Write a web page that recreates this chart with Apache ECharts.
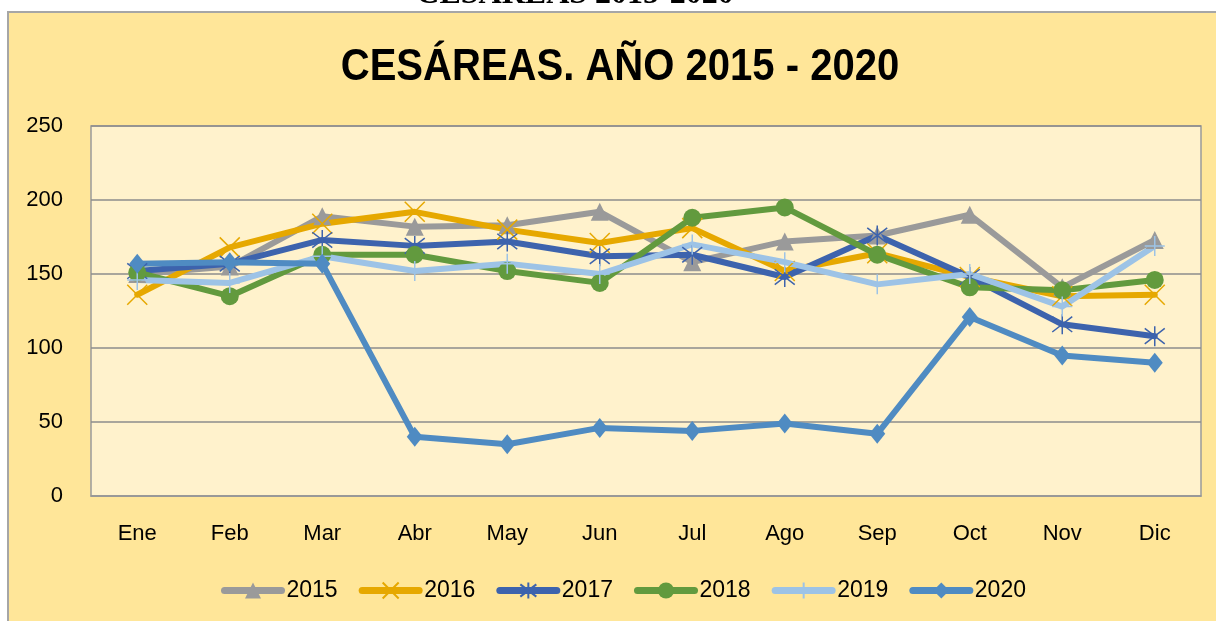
<!DOCTYPE html>
<html lang="es">
  <head>
    <meta charset="UTF-8" />
    <title>Cesáreas 2015-2020</title>
    <script src="https://cdn.jsdelivr.net/npm/echarts@6/dist/echarts.min.js"></script>
    <style>
      html,
      body {
        margin: 0;
        padding: 0;
        background: #ffffff;
      }
      #main {
        width: 1216px;
        height: 621px;
      }
    </style>
  </head>
  <body>
    <div id="main"></div>
    <script>
      // datos
      const meses = ["Ene", "Feb", "Mar", "Abr", "May", "Jun", "Jul", "Ago", "Sep", "Oct", "Nov", "Dic"];
      const yTicks = [0, 50, 100, 150, 200, 250];
      const v2015 = [150, 155, 189, 182, 183, 192, 158, 172, 176, 190, 141, 173];
      const v2016 = [136, 168, 184, 192, 180, 171, 181, 152, 164, 148, 135, 136];
      const v2017 = [152, 157, 173, 169, 172, 162, 163, 148, 176, 148, 116, 108];
      const v2018 = [151, 135, 163, 163, 152, 144, 188, 195, 163, 141, 139, 146];
      const v2019 = [146, 144, 162, 152, 157, 150, 170, 158, 143, 150, 128, 169];
      const v2020 = [157, 158, 157, 40, 35, 46, 44, 49, 42, 121, 95, 90];

      const colores = {
        2015: "#9a9a9a",
        2016: "#e6a800",
        2017: "#3d63ad",
        2018: "#629a3e",
        2019: "#9dc3e6",
        2020: "#4f8bc2",
      };

      const xPath = "path://M0,0L10,10M10,0L0,10";
      const starPath = "path://M0,0L10,10M10,0L0,10M5,-1.5L5,11.5";
      const plusPath = "path://M5,-1L5,11M0,5L10,5";

      const font = "Liberation Sans, Arial, sans-serif";

      const serie = (name, data, symbol, size, stroke) => ({
        name,
        type: "line",
        data,
        symbol,
        symbolSize: size,
        showSymbol: true,
        lineStyle: { width: 6, color: colores[name], cap: "round", join: "round" },
        itemStyle: {
          color: stroke ? "rgba(0,0,0,0)" : colores[name],
          borderColor: colores[name],
          borderWidth: stroke ? 1.5 : 0,
        },
        emphasis: { disabled: true },
        animation: false,
      });

      const option = {
        backgroundColor: "#ffffff",
        graphic: [
          {
            type: "rect",
            z: -10,
            shape: { x: 8, y: 12, width: 1220, height: 620 },
            style: { fill: "#ffe699", stroke: "#a6a6a6", lineWidth: 2 },
          },
          {
            type: "text",
            z: 10,
            x: 575,
            y: 11,
            style: {
              text: "CESÁREAS 2015-2020",
              font: "bold 32px 'Liberation Serif', 'Times New Roman', serif",
              fill: "#000",
              align: "center",
              verticalAlign: "bottom",
            },
          },
          {
            type: "text",
            z: 10,
            x: 620,
            y: 68,
            scaleX: 0.91,
            style: {
              text: "CESÁREAS. AÑO 2015 - 2020",
              font: "bold 44px 'Liberation Sans', sans-serif",
              fill: "#000",
              align: "center",
              verticalAlign: "middle",
            },
          },
        ],
        grid: {
          left: 91,
          right: 15,
          top: 126,
          bottom: 125,
          show: true,
          backgroundColor: "#fff2cc",
          borderColor: "#9a9a9a",
          borderWidth: 1.5,
        },
        legend: {
          left: 216,
          top: 574,
          itemWidth: 57,
          itemHeight: 20,
          itemGap: 21,
          lineStyle: { width: 7, cap: "round" },
          textStyle: { fontSize: 23, color: "#000", fontFamily: font },
          data: ["2015", "2016", "2017", "2018", "2019", "2020"],
        },
        xAxis: {
          type: "category",
          data: meses,
          boundaryGap: true,
          axisTick: { show: false },
          axisLine: { lineStyle: { color: "#9a9a9a", width: 1.5 } },
          axisLabel: { fontSize: 22, color: "#000", fontFamily: font, margin: 27 },
        },
        yAxis: {
          type: "value",
          min: yTicks[0],
          max: yTicks[yTicks.length - 1],
          interval: 50,
          axisLine: { show: false },
          axisTick: { show: false },
          splitLine: { lineStyle: { color: "#8c8c8c", width: 1.5 } },
          axisLabel: { fontSize: 22, color: "#000", fontFamily: font, margin: 28 },
        },
        series: [
          serie("2015", v2015, "triangle", 18, false),
          serie("2016", v2016, xPath, 20, true),
          serie("2017", v2017, starPath, 20, true),
          serie("2018", v2018, "circle", 18, false),
          serie("2019", v2019, plusPath, 20, true),
          serie("2020", v2020, "diamond", [16, 20], false),
        ],
      };

      const chart = echarts.init(document.getElementById("main"));
      chart.setOption(option);
    </script>
  </body>
</html>
